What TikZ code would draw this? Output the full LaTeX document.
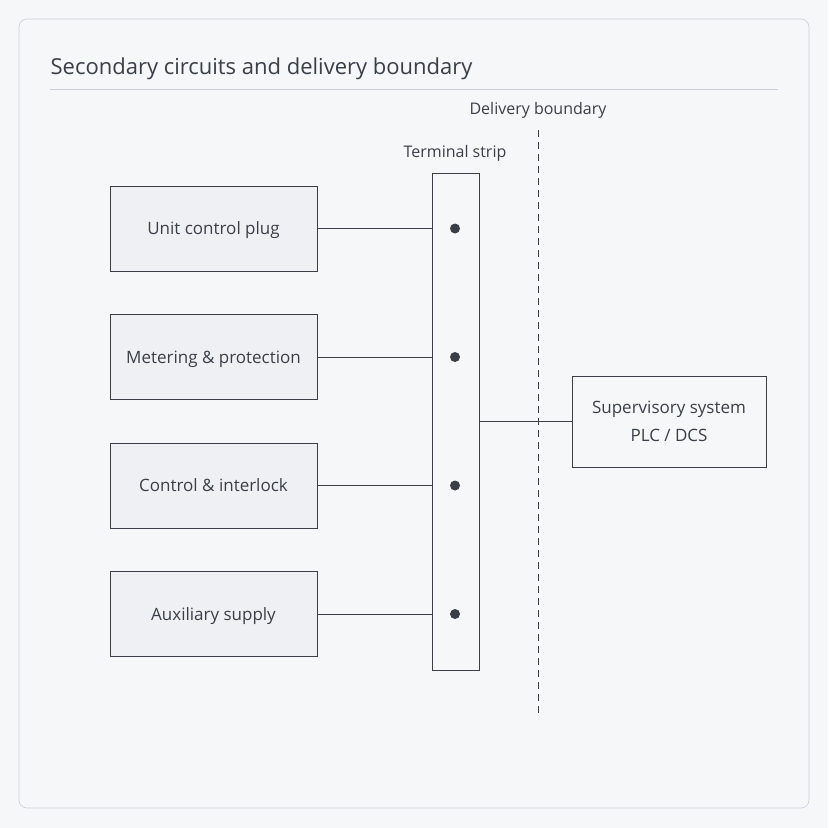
\documentclass[tikz,border=0pt]{standalone}
\usepackage{fontspec}
\setmainfont{Open Sans}
\usetikzlibrary{positioning}
\definecolor{pagebg}{HTML}{F5F7F9}
\definecolor{frame}{HTML}{C9CED6}
\definecolor{ink}{HTML}{3A3F47}
\definecolor{boxfill}{HTML}{EEF0F4}
\begin{document}
\begin{tikzpicture}[
        x = 1pt, y = -1pt, % pixel-like units, y downwards
        semithick,
        block/.style = {draw = ink, fill = boxfill, minimum width = 207pt,
            minimum height = 85pt, font = \fontsize{17}{20}\selectfont, text = ink,
            text depth = 0pt},
        wire/.style = {draw = ink, thick}
    ]

    \useasboundingbox[fill = pagebg] (0,0) rectangle (828,828);
    \draw[frame, rounded corners = 8pt, fill = pagebg] (19,19) rectangle (809,808);

    \node[anchor = base west, text = ink, font = \fontsize{22}{26}\selectfont] (title) at (47,74) {Secondary circuits and delivery boundary};
    \draw[frame] (50,89) -- (778,89);

    % terminal strip
    \node[draw = ink, fill = pagebg, minimum width = 47pt, minimum height = 497pt, inner sep = 0pt] (strip) at (455.5,421.5) {};
    \node[text = ink, font = \fontsize{16}{19}\selectfont] (striplbl) at (455,153) {Terminal strip};

    % delivery boundary
    \coordinate (btop) at (538,130);
    \coordinate (bbot) at (538,716);
    \draw[ink, dashed, dash pattern = on 7pt off 5pt] (btop) -- (bbot);
    \node[text = ink, font = \fontsize{16}{19}\selectfont] (bndlbl) at (538,110) {Delivery boundary};

    % circuits
    \foreach \name/\y/\txt in {plug/228.5/Unit control plug, meter/357/Metering \& protection,
                               ctrl/485.5/Control \& interlock, aux/614/Auxiliary supply}{
        \node[block] (\name) at (213.5,\y) {\txt};
        \node[circle, fill = ink, inner sep = 0pt, minimum size = 10pt] (\name-t) at (455,\y) {};
        \draw[wire] (\name.east) -- (\name.east -| strip.west);
    }

    % supervisory system
    \node[block, fill = pagebg, minimum width = 194pt, minimum height = 91pt, align = center,
          font = \fontsize{17}{28}\selectfont] (sup) at (669,421.5) {Supervisory system\\PLC / DCS};
    \draw[wire] (strip.east |- sup.west) -- (sup.west);

\end{tikzpicture}
\end{document}
